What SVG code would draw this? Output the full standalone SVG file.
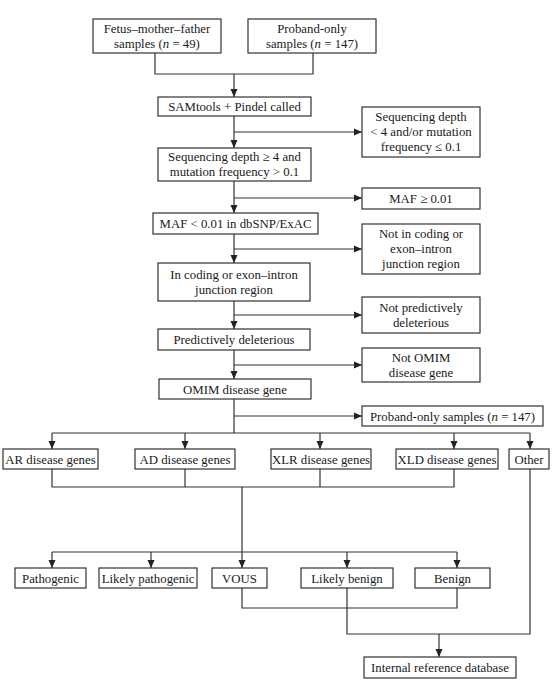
<svg xmlns="http://www.w3.org/2000/svg" width="554" height="689" viewBox="0 0 554 689">
<defs>
<marker id="arr" markerUnits="userSpaceOnUse" markerWidth="8" markerHeight="8" viewBox="0 0 8 8" refX="8" refY="4" orient="auto">
<path d="M0,0.5 L8,4 L0,7.5 Z" fill="#222"/>
</marker>
<style>
rect{fill:#fff;stroke:#333;stroke-width:1.2}
text{font-family:'Liberation Serif',serif;font-size:12.8px;fill:#1a1a1a;text-anchor:middle}
.c{fill:none;stroke:#333;stroke-width:1.2}
.a{fill:none;stroke:#333;stroke-width:1.2;marker-end:url(#arr)}
.i{font-style:italic}
</style>
</defs>
<rect x="0" y="0" width="554" height="689" style="fill:#fff;stroke:none"/>
<g id="connectors">
<path class="c" d="M155,53 V74 H313 V53"/>
<path class="a" d="M234,74 V97"/>
<path class="a" d="M234,116 V148"/>
<path class="a" d="M234,132 H362"/>
<path class="a" d="M234,181 V213"/>
<path class="a" d="M234,198 H362"/>
<path class="a" d="M234,234 V263"/>
<path class="a" d="M234,249 H362"/>
<path class="a" d="M234,301 V329"/>
<path class="a" d="M234,315 H362"/>
<path class="a" d="M234,350 V379"/>
<path class="a" d="M234,365 H362"/>
<path class="c" d="M234,399 V433"/>
<path class="a" d="M234,416 H362"/>
<path class="c" d="M52,433 H530"/>
<path class="a" d="M52,433 V449"/>
<path class="a" d="M185,433 V449"/>
<path class="a" d="M320,433 V449"/>
<path class="a" d="M454,433 V449"/>
<path class="a" d="M530,433 V449"/>
<path class="c" d="M52,469 V487 H454 V469"/>
<path class="c" d="M185,469 V487"/>
<path class="c" d="M320,469 V487"/>
<path class="c" d="M52,552 H457"/>
<path class="a" d="M242,487 V568"/>
<path class="a" d="M52,552 V568"/>
<path class="a" d="M151,552 V568"/>
<path class="a" d="M347,552 V568"/>
<path class="a" d="M457,552 V568"/>
<path class="c" d="M242,588 V608 H457 V588"/>
<path class="c" d="M347,588 V634 H530 V469"/>
<path class="a" d="M439,634 V657"/>
</g>
<g font-family="Liberation Serif, serif">
<g id="n1"><rect x="93" y="19" width="128" height="34"/><text x="157" y="32.5">Fetus–mother–father</text><text x="157" y="47.5">samples (<tspan class="i">n</tspan> = 49)</text></g>
<g id="n2"><rect x="248" y="19" width="128" height="34"/><text x="312" y="32.5">Proband-only</text><text x="312" y="47.5">samples (<tspan class="i">n</tspan> = 147)</text></g>
<g id="n3"><rect x="158" y="97" width="153" height="19"/><text x="234.5" y="110.5">SAMtools + Pindel called</text></g>
<g id="n4"><rect x="362" y="107" width="118" height="50"/><text x="421" y="121">Sequencing depth</text><text x="421" y="136">&lt; 4 and/or mutation</text><text x="421" y="151">frequency ≤ 0.1</text></g>
<g id="n5"><rect x="158" y="148" width="153" height="33"/><text x="234.5" y="161">Sequencing depth ≥ 4 and</text><text x="234.5" y="176">mutation frequency &gt; 0.1</text></g>
<g id="n6"><rect x="362" y="188" width="118" height="21"/><text x="421" y="203">MAF ≥ 0.01</text></g>
<g id="n7"><rect x="153" y="213" width="165" height="21"/><text x="235.5" y="228">MAF &lt; 0.01 in dbSNP/ExAC</text></g>
<g id="n8"><rect x="362" y="224" width="118" height="50"/><text x="421" y="238">Not in coding or</text><text x="421" y="253">exon–intron</text><text x="421" y="268">junction region</text></g>
<g id="n9"><rect x="158" y="263" width="152" height="38"/><text x="234" y="278.5">In coding or exon–intron</text><text x="234" y="293.5">junction region</text></g>
<g id="n10"><rect x="362" y="297" width="118" height="36"/><text x="421" y="311.5">Not predictively</text><text x="421" y="326.5">deleterious</text></g>
<g id="n11"><rect x="158" y="329" width="152" height="21"/><text x="234" y="344">Predictively deleterious</text></g>
<g id="n12"><rect x="362" y="348" width="118" height="34"/><text x="421" y="361.5">Not OMIM</text><text x="421" y="376.5">disease gene</text></g>
<g id="n13"><rect x="159" y="379" width="152" height="20"/><text x="235" y="393.5">OMIM disease gene</text></g>
<g id="n14"><rect x="362" y="406" width="181" height="20"/><text x="452.5" y="420.5">Proband-only samples (<tspan class="i">n</tspan> = 147)</text></g>
<g id="n15"><rect x="3" y="449" width="95" height="20"/><text x="50.5" y="463.5">AR disease genes</text></g>
<g id="n16"><rect x="135" y="449" width="100" height="20"/><text x="185" y="463.5">AD disease genes</text></g>
<g id="n17"><rect x="271" y="449" width="100" height="20"/><text x="321" y="463.5">XLR disease genes</text></g>
<g id="n18"><rect x="396" y="449" width="102" height="20"/><text x="447" y="463.5">XLD disease genes</text></g>
<g id="n19"><rect x="509" y="449" width="40" height="20"/><text x="529" y="463.5">Other</text></g>
<g id="n20"><rect x="15" y="568" width="71" height="20"/><text x="50.5" y="582.5">Pathogenic</text></g>
<g id="n21"><rect x="99" y="568" width="98" height="20"/><text x="148" y="582.5">Likely pathogenic</text></g>
<g id="n22"><rect x="212" y="568" width="55" height="20"/><text x="239.5" y="582.5">VOUS</text></g>
<g id="n23"><rect x="301" y="568" width="92" height="20"/><text x="347" y="582.5">Likely benign</text></g>
<g id="n24"><rect x="415" y="568" width="75" height="20"/><text x="452.5" y="582.5">Benign</text></g>
<g id="n25"><rect x="364" y="657" width="152" height="21"/><text x="440" y="672">Internal reference database</text></g>
</g>
</svg>
